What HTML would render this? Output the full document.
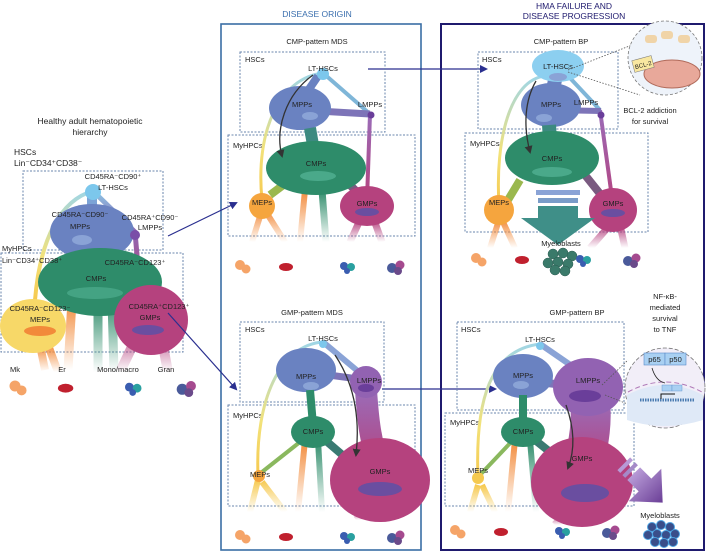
<!DOCTYPE html>
<html><head><meta charset="utf-8"><style>
html,body{margin:0;padding:0;background:#fff;}
svg{display:block;font-family:"Liberation Sans",sans-serif;}
.t{font-size:8.5px;fill:#222;}
.s{font-size:7.5px;fill:#222;}
.db{fill:none;stroke:#6a86ad;stroke-width:1;stroke-dasharray:2 1.5;}
</style></head><body>
<svg width="706" height="552" viewBox="0 0 706 552" xmlns="http://www.w3.org/2000/svg">
<defs>
<linearGradient id="gMep" x1="0" y1="0" x2="0" y2="1"><stop offset="0" stop-color="#9fd6e6"/><stop offset=".6" stop-color="#f2e27a"/><stop offset="1" stop-color="#f6c94f"/></linearGradient>
<linearGradient id="gLm" x1="0" y1="0" x2="0" y2="1"><stop offset="0" stop-color="#8cc6e4"/><stop offset=".35" stop-color="#8b6cb8"/><stop offset="1" stop-color="#b5427e"/></linearGradient>
<linearGradient id="gLm2" x1="0" y1="0" x2="0" y2="1"><stop offset="0" stop-color="#9a6cb8"/><stop offset="1" stop-color="#b5427e"/></linearGradient>
<linearGradient id="fadeO" x1="0" y1="0" x2="0" y2="1"><stop offset="0" stop-color="#f28a3a"/><stop offset="1" stop-color="#f28a3a" stop-opacity="0"/></linearGradient>
<linearGradient id="fadeG" x1="0" y1="0" x2="0" y2="1"><stop offset="0" stop-color="#2e8c6a"/><stop offset="1" stop-color="#2e8c6a" stop-opacity="0"/></linearGradient>
<linearGradient id="fadeM" x1="0" y1="0" x2="0" y2="1"><stop offset="0" stop-color="#b5427e"/><stop offset="1" stop-color="#b5427e" stop-opacity="0"/></linearGradient>
<linearGradient id="fadeY" x1="0" y1="0" x2="0" y2="1"><stop offset="0" stop-color="#f6c94f"/><stop offset="1" stop-color="#f6c94f" stop-opacity="0"/></linearGradient>
<linearGradient id="gArr" x1="0" y1="0" x2="0" y2="1"><stop offset="0" stop-color="#b79ad6"/><stop offset="1" stop-color="#6a3e96"/></linearGradient>
<marker id="ab" markerWidth="8" markerHeight="8" refX="6" refY="4" orient="auto" markerUnits="userSpaceOnUse"><path d="M0,0 L8,4 L0,8 Z" fill="#2a2f8f"/></marker>
<marker id="ak" markerWidth="8" markerHeight="8" refX="6" refY="4" orient="auto" markerUnits="userSpaceOnUse"><path d="M0,0 L8,4 L0,8 Z" fill="#333"/></marker>
<g id="cells">
 <g fill="#f5a468"><circle cx="0" cy="0" r="5"/><circle cx="6" cy="4" r="4.5"/></g>
 <g fill="#c0202e"><ellipse cx="46" cy="2" rx="7" ry="4"/></g>
 <g><circle cx="104" cy="1" r="4" fill="#3a5db0"/><circle cx="111" cy="2" r="4" fill="#2aa0a0"/><circle cx="107" cy="6" r="3" fill="#3a5db0"/></g>
 <g><circle cx="152" cy="3" r="5" fill="#4a5a9a"/><circle cx="160" cy="0" r="4.5" fill="#a54a8f"/><circle cx="158" cy="6" r="4" fill="#6a4a8a"/></g>
</g>
</defs>

<text x="317" y="17" font-size="8.5" fill="#3b6fae" text-anchor="middle">DISEASE ORIGIN</text>
<text x="574" y="9" font-size="8.5" fill="#1f1a6e" text-anchor="middle">HMA FAILURE AND</text>
<text x="574" y="19" font-size="8.5" fill="#1f1a6e" text-anchor="middle">DISEASE PROGRESSION</text>
<rect x="221" y="24" width="200" height="526" fill="none" stroke="#3a6ea5" stroke-width="1.6"/>
<rect x="441" y="24" width="263" height="526" fill="none" stroke="#1f1a6e" stroke-width="2"/>

<!-- LEFT -->
<text x="90" y="124" class="t" text-anchor="middle">Healthy adult hematopoietic</text>
<text x="90" y="135" class="t" text-anchor="middle">hierarchy</text>
<text x="14" y="155" class="t">HSCs</text>
<text x="14" y="166" class="t">Lin⁻CD34⁺CD38⁻</text>
<rect x="23" y="171" width="140" height="79" class="db"/>
<rect x="1" y="253" width="182" height="99" class="db"/>
<path d="M93,191 C60,200 40,240 35,300" stroke="url(#gMep)" stroke-width="4" fill="none"/>
<path d="M93,191 L135,232 L140,290" stroke="url(#gLm)" stroke-width="5" fill="none"/>
<path d="M92,240 L135,235" stroke="#7d74b8" stroke-width="7"/>
<path d="M92,195 L92,215" stroke="#7ca3d6" stroke-width="10"/>
<ellipse cx="92" cy="232" rx="42" ry="28" fill="#6a82c1"/>
<circle cx="93" cy="192" r="8" fill="#7cc7ec"/>
<circle cx="135" cy="235" r="5" fill="#7a4ea8"/>
<path d="M92,255 L92,265" stroke="#3c8a80" stroke-width="16"/>
<path d="M60,300 L25,350" stroke="#f5c95a" stroke-width="10"/>
<path d="M40,345 L45,370 M48,345 L58,372" stroke="url(#fadeO)" stroke-width="8"/>
<path d="M72,300 L68,370" stroke="url(#fadeO)" stroke-width="9"/>
<path d="M98,300 L98,372 M112,300 L114,372" stroke="url(#fadeG)" stroke-width="9"/>
<path d="M140,330 L120,372 M160,330 L168,372" stroke="url(#fadeM)" stroke-width="10"/>
<ellipse cx="100" cy="282" rx="62" ry="34" fill="#2e8c6a"/>
<path d="M130,295 L150,310" stroke="#7a5a80" stroke-width="12"/>
<ellipse cx="33" cy="326" rx="33" ry="27" fill="#f7d868"/>
<ellipse cx="151" cy="320" rx="37" ry="35" fill="#b5427e"/>
<ellipse cx="95" cy="293" rx="28" ry="6" fill="#4aa98a" opacity=".8"/>
<ellipse cx="40" cy="331" rx="16" ry="5" fill="#f28a3a"/>
<ellipse cx="148" cy="330" rx="16" ry="5" fill="#6a4ea0"/>
<ellipse cx="82" cy="240" rx="10" ry="5" fill="#8aa3d6"/>
<text x="113" y="179" class="s" text-anchor="middle">CD45RA⁻CD90⁺</text>
<text x="113" y="190" class="s" text-anchor="middle">LT-HSCs</text>
<text x="80" y="217" class="s" text-anchor="middle">CD45RA⁻CD90⁻</text>
<text x="80" y="229" class="s" text-anchor="middle">MPPs</text>
<text x="150" y="220" class="s" text-anchor="middle">CD45RA⁺CD90⁻</text>
<text x="150" y="230" class="s" text-anchor="middle">LMPPs</text>
<text x="2" y="251" class="s">MyHPCs</text>
<text x="2" y="263" class="s">Lin⁻CD34⁺CD38⁺</text>
<text x="135" y="265" class="s" text-anchor="middle">CD45RA⁻CD123⁺</text>
<text x="96" y="281" class="s" text-anchor="middle">CMPs</text>
<text x="40" y="311" class="s" text-anchor="middle">CD45RA⁻CD123⁻</text>
<text x="40" y="322" class="s" text-anchor="middle">MEPs</text>
<text x="159" y="309" class="s" text-anchor="middle">CD45RA⁺CD123⁺</text>
<text x="150" y="320" class="s" text-anchor="middle">GMPs</text>
<text x="15" y="372" class="s" text-anchor="middle">Mk</text>
<text x="62" y="372" class="s" text-anchor="middle">Er</text>
<text x="118" y="372" class="s" text-anchor="middle">Mono/macro</text>
<text x="166" y="372" class="s" text-anchor="middle">Gran</text>
<use href="#cells" transform="translate(15,386) scale(1.1)"/>

<path d="M168,236 L236,203" stroke="#2a2f8f" stroke-width="1.2" fill="none" marker-end="url(#ab)"/>
<path d="M168,313 L236,389" stroke="#2a2f8f" stroke-width="1.2" fill="none" marker-end="url(#ab)"/>
<path d="M368,69 L486,69" stroke="#2a2f8f" stroke-width="1.2" fill="none" marker-end="url(#ab)"/>
<path d="M382,389 L495,389" stroke="#2a2f8f" stroke-width="1.2" fill="none" marker-end="url(#ab)"/>

<!-- MID TOP -->
<text x="317" y="44" class="s" text-anchor="middle">CMP-pattern MDS</text>
<rect x="240" y="52" width="145" height="80" class="db"/>
<text x="245" y="62" class="s">HSCs</text>
<rect x="228" y="135" width="187" height="101" class="db"/>
<text x="233" y="148" class="s">MyHPCs</text>
<path d="M323,73 C280,78 255,130 262,200" stroke="url(#gMep)" stroke-width="3" fill="none"/>
<path d="M323,73 L370,114" stroke="#7fb6d8" stroke-width="4" fill="none"/>
<path d="M370,114 L367,200" stroke="url(#gLm2)" stroke-width="4" fill="none"/>
<path d="M300,110 L370,114" stroke="#7d74b8" stroke-width="7"/>
<path d="M318,76 L305,95" stroke="#6a82c1" stroke-width="8"/>
<ellipse cx="300" cy="108" rx="31" ry="22" fill="#6a82c1"/>
<path d="M310,128 L313,145" stroke="#3c8a80" stroke-width="12"/>
<path d="M262,210 L252,242 M266,212 L285,242" stroke="url(#fadeO)" stroke-width="6"/>
<path d="M305,190 L300,242" stroke="url(#fadeO)" stroke-width="6"/>
<path d="M322,190 L326,242" stroke="url(#fadeG)" stroke-width="7"/>
<path d="M360,220 L350,242 M374,220 L382,242" stroke="url(#fadeM)" stroke-width="7"/>
<path d="M270,195 L290,180" stroke="#9ab84e" stroke-width="8"/>
<path d="M345,180 L365,200" stroke="#7a5a80" stroke-width="8"/>
<ellipse cx="316" cy="168" rx="50" ry="27" fill="#2e8c6a"/>
<circle cx="262" cy="206" r="13" fill="#f5a53e"/>
<ellipse cx="367" cy="206" rx="27" ry="20" fill="#b5427e"/>
<circle cx="323" cy="74" r="6" fill="#7cc7ec"/>
<circle cx="371" cy="115" r="3.5" fill="#6a3e9a"/>
<ellipse cx="318" cy="176" rx="18" ry="5" fill="#4aa98a"/>
<ellipse cx="367" cy="212" rx="12" ry="4" fill="#6a4ea0"/>
<ellipse cx="310" cy="116" rx="8" ry="4" fill="#8aa3d6"/>
<path d="M313,75 C285,95 275,130 282,156" stroke="#333" stroke-width="1.3" fill="none" marker-end="url(#ak)"/>
<text x="323" y="71" class="s" text-anchor="middle">LT-HSCs</text>
<text x="302" y="107" class="s" text-anchor="middle">MPPs</text>
<text x="370" y="107" class="s" text-anchor="middle">LMPPs</text>
<text x="316" y="166" class="s" text-anchor="middle">CMPs</text>
<text x="262" y="205" class="s" text-anchor="middle">MEPs</text>
<text x="367" y="206" class="s" text-anchor="middle">GMPs</text>
<use href="#cells" x="240" y="265"/>

<!-- MID BOTTOM -->
<text x="312" y="315" class="s" text-anchor="middle">GMP-pattern MDS</text>
<rect x="240" y="322" width="144" height="80" class="db"/>
<text x="245" y="332" class="s">HSCs</text>
<rect x="228" y="405" width="187" height="101" class="db"/>
<text x="233" y="418" class="s">MyHPCs</text>
<path d="M323,342 C280,345 255,400 258,475" stroke="url(#gMep)" stroke-width="3" fill="none"/>
<path d="M323,342 L366,378" stroke="#8aa3d6" stroke-width="6"/>
<path d="M306,372 L366,380" stroke="#7d74b8" stroke-width="7"/>
<path d="M366,390 C368,420 370,440 380,470" stroke="url(#gLm2)" stroke-width="22" fill="none"/>
<ellipse cx="306" cy="370" rx="30" ry="22" fill="#6a82c1"/>
<path d="M310,390 L313,425" stroke="#2e8c6a" stroke-width="8"/>
<path d="M258,480 L250,512 M262,482 L285,512" stroke="url(#fadeY)" stroke-width="6"/>
<path d="M305,440 L298,512" stroke="url(#fadeO)" stroke-width="6"/>
<path d="M318,440 L322,512" stroke="url(#fadeG)" stroke-width="6"/>
<path d="M370,510 L356,520 M390,510 L395,520" stroke="url(#fadeM)" stroke-width="8"/>
<path d="M262,472 L305,438" stroke="#8ab85e" stroke-width="4"/>
<path d="M325,440 L360,470" stroke="#3a7a72" stroke-width="8"/>
<ellipse cx="313" cy="432" rx="22" ry="16" fill="#2e8c6a"/>
<circle cx="259" cy="476" r="6" fill="#f5a53e"/>
<ellipse cx="380" cy="480" rx="50" ry="42" fill="#b5427e"/>
<circle cx="366" cy="382" r="16" fill="#9262b2"/>
<circle cx="323" cy="344" r="4" fill="#7cc7ec"/>
<ellipse cx="380" cy="489" rx="22" ry="7" fill="#6a4ea0"/>
<ellipse cx="366" cy="388" rx="8" ry="4" fill="#6a3e9a"/>
<ellipse cx="311" cy="386" rx="8" ry="4" fill="#8aa3d6"/>
<path d="M335,355 C355,385 360,420 356,455" stroke="#333" stroke-width="1.3" fill="none" marker-end="url(#ak)"/>
<text x="323" y="341" class="s" text-anchor="middle">LT-HSCs</text>
<text x="306" y="379" class="s" text-anchor="middle">MPPs</text>
<text x="369" y="383" class="s" text-anchor="middle">LMPPs</text>
<text x="313" y="434" class="s" text-anchor="middle">CMPs</text>
<text x="260" y="477" class="s" text-anchor="middle">MEPs</text>
<text x="380" y="474" class="s" text-anchor="middle">GMPs</text>
<use href="#cells" x="240" y="535"/>

<!-- RIGHT TOP -->
<text x="561" y="44" class="s" text-anchor="middle">CMP-pattern BP</text>
<rect x="478" y="52" width="140" height="77" class="db"/>
<text x="482" y="62" class="s">HSCs</text>
<rect x="465" y="133" width="183" height="99" class="db"/>
<text x="470" y="146" class="s">MyHPCs</text>
<path d="M545,76 C510,80 495,140 499,205" stroke="url(#gMep)" stroke-width="3" fill="none"/>
<path d="M570,78 L600,110" stroke="#7fb6d8" stroke-width="4" fill="none"/>
<path d="M600,110 L613,205" stroke="url(#gLm2)" stroke-width="4" fill="none"/>
<path d="M551,110 L601,111" stroke="#7d74b8" stroke-width="6"/>
<path d="M555,80 L552,95" stroke="#6a82c1" stroke-width="14"/>
<ellipse cx="551" cy="105" rx="30" ry="22" fill="#6a82c1"/>
<path d="M549,125 L550,140" stroke="#3c8a80" stroke-width="14"/>
<path d="M499,220 L490,248 M503,222 L515,248" stroke="url(#fadeO)" stroke-width="6"/>
<path d="M610,225 L590,248 M620,225 L625,248" stroke="url(#fadeM)" stroke-width="7"/>
<path d="M505,205 L520,180" stroke="#9ab84e" stroke-width="8"/>
<path d="M585,175 L605,200" stroke="#7a5a80" stroke-width="8"/>
<ellipse cx="552" cy="158" rx="47" ry="27" fill="#2e8c6a"/>
<circle cx="499" cy="210" r="15" fill="#f5a53e"/>
<ellipse cx="613" cy="210" rx="24" ry="22" fill="#b5427e"/>
<ellipse cx="558" cy="66" rx="26" ry="16" fill="#8ccff0"/>
<circle cx="601" cy="115" r="3.5" fill="#6a3e9a"/>
<ellipse cx="552" cy="172" rx="20" ry="5" fill="#4aa98a"/>
<ellipse cx="613" cy="213" rx="12" ry="4" fill="#6a4ea0"/>
<ellipse cx="544" cy="118" rx="8" ry="4" fill="#8aa3d6"/>
<ellipse cx="558" cy="77" rx="9" ry="4" fill="#8aa3d6"/>
<rect x="536" y="190" width="44" height="5" fill="#8aa3d6"/>
<rect x="538" y="198" width="40" height="5" fill="#7a9cc8"/>
<path d="M538,206 L578,206 L578,218 L595,218 L558,245 L521,218 L538,218 Z" fill="#3f8f88"/>
<path d="M536,81 C525,100 523,125 530,152" stroke="#333" stroke-width="1.3" fill="none" marker-end="url(#ak)"/>
<text x="558" y="69" class="s" text-anchor="middle">LT-HSCs</text>
<text x="551" y="107" class="s" text-anchor="middle">MPPs</text>
<text x="586" y="105" class="s" text-anchor="middle">LMPPs</text>
<text x="552" y="161" class="s" text-anchor="middle">CMPs</text>
<text x="499" y="205" class="s" text-anchor="middle">MEPs</text>
<text x="613" y="206" class="s" text-anchor="middle">GMPs</text>
<text x="561" y="246" class="s" text-anchor="middle">Myeloblasts</text>
<g fill="#3a7a6a" stroke="#2a5a50" stroke-width=".5">
<circle cx="553" cy="254" r="5"/><circle cx="563" cy="253" r="5"/><circle cx="572" cy="256" r="5"/><circle cx="548" cy="263" r="5"/><circle cx="558" cy="262" r="5"/><circle cx="568" cy="264" r="5"/><circle cx="555" cy="270" r="5"/><circle cx="565" cy="271" r="5"/></g>
<use href="#cells" x="476" y="258"/>
<path d="M568,70 L632,45 M568,72 L640,95" stroke="#555" stroke-width=".8" stroke-dasharray="1.5 1.5"/>
<circle cx="665" cy="58" r="37" fill="#eef3fa" stroke="#777" stroke-width=".8" stroke-dasharray="3 2"/>
<ellipse cx="672" cy="74" rx="28" ry="14" fill="#e8a89a" stroke="#b06a5a"/>
<rect x="645" y="35" width="12" height="8" rx="3" fill="#f0d4a8"/><rect x="661" y="31" width="12" height="8" rx="3" fill="#f0d4a8"/><rect x="678" y="35" width="12" height="8" rx="3" fill="#f0d4a8"/>
<rect x="633" y="58" width="20" height="12" fill="#f8e7a0" stroke="#777" stroke-width=".5" transform="rotate(-15 643 64)"/>
<text x="643" y="67" font-size="6" fill="#222" text-anchor="middle" transform="rotate(-15 643 64)">BCL-2</text>
<text x="650" y="113" class="s" text-anchor="middle">BCL-2 addiction</text>
<text x="650" y="124" class="s" text-anchor="middle">for survival</text>

<!-- RIGHT BOTTOM -->
<text x="577" y="315" class="s" text-anchor="middle">GMP-pattern BP</text>
<rect x="457" y="322" width="167" height="88" class="db"/>
<text x="461" y="332" class="s">HSCs</text>
<rect x="445" y="413" width="189" height="93" class="db"/>
<text x="450" y="425" class="s">MyHPCs</text>
<path d="M540,344 C490,350 475,400 478,478" stroke="url(#gMep)" stroke-width="3" fill="none"/>
<path d="M540,344 L585,375" stroke="#8aa3d6" stroke-width="6"/>
<path d="M523,380 L588,388" stroke="#7d74b8" stroke-width="8"/>
<path d="M590,400 C592,420 590,440 582,470" stroke="url(#gLm2)" stroke-width="40" fill="none"/>
<ellipse cx="523" cy="376" rx="30" ry="22" fill="#6a82c1"/>
<path d="M523,395 L523,425" stroke="#2e8c6a" stroke-width="8"/>
<path d="M478,485 L470,512 M482,485 L495,512" stroke="url(#fadeY)" stroke-width="6"/>
<path d="M515,440 L508,512" stroke="url(#fadeO)" stroke-width="6"/>
<path d="M530,440 L536,512" stroke="url(#fadeG)" stroke-width="6"/>
<path d="M565,515 L555,525" stroke="url(#fadeM)" stroke-width="8"/>
<path d="M480,475 L515,438" stroke="#8ab85e" stroke-width="4"/>
<path d="M535,440 L560,460" stroke="#3a7a72" stroke-width="8"/>
<ellipse cx="523" cy="432" rx="22" ry="15" fill="#2e8c6a"/>
<circle cx="478" cy="478" r="6" fill="#f5c94f"/>
<ellipse cx="582" cy="482" rx="51" ry="45" fill="#b5427e"/>
<ellipse cx="588" cy="387" rx="35" ry="29" fill="#9262b2"/>
<circle cx="540" cy="346" r="4" fill="#7cc7ec"/>
<ellipse cx="585" cy="493" rx="24" ry="9" fill="#6a4ea0"/>
<ellipse cx="585" cy="396" rx="16" ry="6" fill="#6a3e9a"/>
<ellipse cx="521" cy="385" rx="8" ry="4" fill="#8aa3d6"/>
<path d="M566,405 C575,430 575,450 568,468" stroke="#333" stroke-width="1.3" fill="none" marker-end="url(#ak)"/>
<g transform="rotate(-45 645 485)">
<rect x="636" y="455" width="18" height="4" fill="#b79ad6"/>
<rect x="636" y="462" width="18" height="4" fill="#a58ac8"/>
<path d="M636,469 L654,469 L654,485 L668,485 L645,510 L622,485 L636,485 Z" fill="url(#gArr)"/>
</g>
<text x="540" y="342" class="s" text-anchor="middle">LT-HSCs</text>
<text x="523" y="378" class="s" text-anchor="middle">MPPs</text>
<text x="588" y="383" class="s" text-anchor="middle">LMPPs</text>
<text x="523" y="434" class="s" text-anchor="middle">CMPs</text>
<text x="478" y="473" class="s" text-anchor="middle">MEPs</text>
<text x="582" y="461" class="s" text-anchor="middle">GMPs</text>
<text x="660" y="518" class="s" text-anchor="middle">Myeloblasts</text>
<g fill="#3a4e8a" stroke="#4aa0e0" stroke-width="1">
<circle cx="652" cy="527" r="4.5"/><circle cx="661" cy="525" r="4.5"/><circle cx="670" cy="527" r="4.5"/><circle cx="648" cy="535" r="4.5"/><circle cx="657" cy="534" r="4.5"/><circle cx="666" cy="535" r="4.5"/><circle cx="675" cy="534" r="4.5"/><circle cx="655" cy="542" r="4.5"/><circle cx="664" cy="543" r="4.5"/><circle cx="673" cy="542" r="4.5"/></g>
<use href="#cells" x="455" y="530"/>
<text x="665" y="299" class="s" text-anchor="middle">NF-κB-</text>
<text x="665" y="310" class="s" text-anchor="middle">mediated</text>
<text x="665" y="321" class="s" text-anchor="middle">survival</text>
<text x="665" y="332" class="s" text-anchor="middle">to TNF</text>
<path d="M602,385 L628,360 M605,395 L630,405" stroke="#555" stroke-width=".8" stroke-dasharray="1.5 1.5"/>
<circle cx="665" cy="388" r="40" fill="#f2eef8" stroke="#777" stroke-width=".8" stroke-dasharray="4 2"/>
<path d="M627,395 Q665,375 703,395 L703,420 Q665,432 627,420 Z" fill="#dfe9f7"/>
<path d="M628,392 Q665,372 702,392" stroke="#b07ab8" stroke-width="1" stroke-dasharray="5 3" fill="none"/>
<rect x="644" y="353" width="21" height="12" fill="#a9d0f2" stroke="#5a8ac8" stroke-width=".6"/>
<rect x="665" y="353" width="21" height="12" fill="#a9d0f2" stroke="#5a8ac8" stroke-width=".6"/>
<text x="654.5" y="362" font-size="7.5" fill="#222" text-anchor="middle">p65</text>
<text x="675.5" y="362" font-size="7.5" fill="#222" text-anchor="middle">p50</text>
<rect x="662" y="385" width="10" height="6" fill="#a9d0f2" stroke="#5a8ac8" stroke-width=".4"/>
<rect x="672" y="385" width="10" height="6" fill="#a9d0f2" stroke="#5a8ac8" stroke-width=".4"/>
<path d="M652,368 C655,378 660,382 665,383" stroke="#222" stroke-width=".8" fill="none"/>
<path d="M640,400 L695,400" stroke="#4a7ab0" stroke-width="3" stroke-dasharray="1.5 1"/>
<path d="M661,399 L661,394 L675,394" stroke="#111" stroke-width="1" fill="none"/>
</svg>
</body></html>
